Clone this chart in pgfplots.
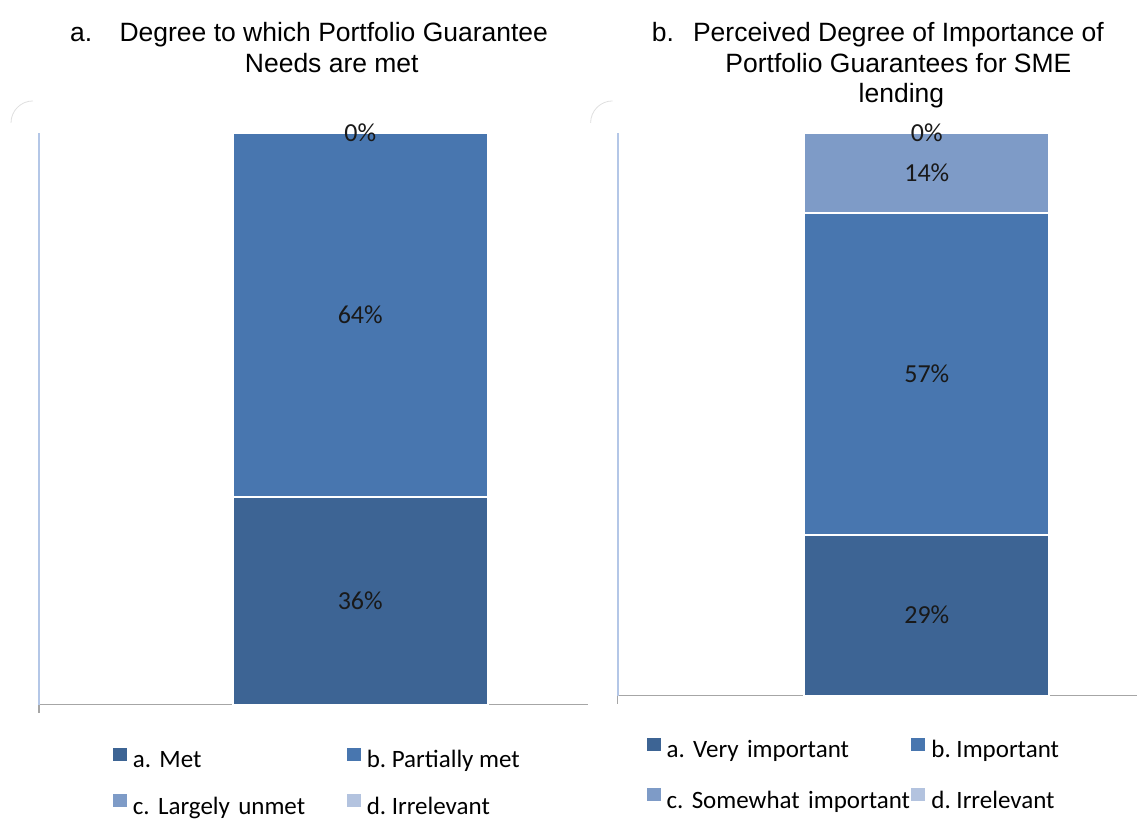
\documentclass[border=0pt]{standalone}
\usepackage{pgfplots}
\pgfplotsset{compat=1.18}
\usepackage{fontspec}
\setmainfont{Liberation Sans}
\newfontfamily\carlito{Carlito}
\definecolor{ca}{HTML}{3D6494}
\definecolor{cb}{HTML}{4876AF}
\definecolor{cc}{HTML}{7E9BC7}
\definecolor{cd}{HTML}{B3C3DF}
\definecolor{axgray}{HTML}{A6A6A6}
\definecolor{aylb}{HTML}{B4C7E7}
\newcommand\titlefont{\fontsize{26.5}{30.5}\selectfont}
\newcommand\legfont{\carlito\fontsize{25}{30}\selectfont}
\pgfplotsset{
  panel/.style={
    scale only axis, xmin=0, xmax=1, ymin=0, ymax=100,
    axis x line*=bottom, axis y line*=left,
    x axis line style={draw=axgray, line width=1.5pt},
    y axis line style={draw=aylb, line width=2pt},
    xtick={0}, xticklabels={}, ytick=\empty,
    major tick length=8pt, tick align=outside,
    xtick style={draw=axgray, line width=1.5pt},
    ybar stacked, clip=false,
    legend columns=2, legend cell align=left,
    legend image code/.code={\fill[##1,draw=none] (0pt,1pt) rectangle (14pt,14pt);},
  },
  seg/.style={fill=#1, draw=white, line width=2pt},
  lblaxis/.style={
    scale only axis, xmin=0, xmax=1, ymin=0, ymax=100, hide axis, clip=false,
  },
  lbl/.style={
    draw=none, mark=none,
    point meta=explicit symbolic,
    nodes near coords={\pgfplotspointmeta\%},
    every node near coord/.style={font=\carlito\fontsize{26}{30}\selectfont, text=black!90, anchor=center, inner sep=0pt},
  },
}
\begin{document}
\frenchspacing
\begin{tikzpicture}[x=1pt,y=1pt]
\path (0pt,0pt) rectangle (1138pt,-816pt);
% titles
\node[anchor=base west,inner sep=0,font=\titlefont] at (70pt,-42pt) {a.};
\node[anchor=base,inner sep=0,font=\titlefont] at (334pt,-42pt) {Degree to which Portfolio Guarantee};
\node[anchor=base,inner sep=0,font=\titlefont] at (332pt,-72.5pt) {Needs are met};
\node[anchor=base west,inner sep=0,font=\titlefont] at (652pt,-42pt) {b.};
\node[anchor=base,inner sep=0,font=\titlefont] at (899pt,-42pt) {Perceived Degree of Importance of};
\node[anchor=base,inner sep=0,font=\titlefont] at (899pt,-73pt) {Portfolio Guarantees for SME};
\node[anchor=base,inner sep=0,font=\titlefont] at (902pt,-103pt) {lending};
% chart-area corner remnants
\draw[gray!25, line width=0.8pt] (11pt,-123pt) arc[start angle=180, end angle=90, radius=22pt];
\draw[gray!25, line width=0.8pt] (591pt,-123pt) arc[start angle=180, end angle=90, radius=22pt];

% ---------- panel a ----------
\begin{axis}[panel,
  at={(39pt,-705pt)}, anchor=south west, width=549pt, height=572pt,
  bar width=0.4645,
  legend style={draw=none, fill=none, inner sep=0pt, outer sep=0pt,
    at={(0.1348,-0.0752)}, anchor=north west, font=\legfont,
    nodes={inner sep=0pt, text height=18pt, text depth=6pt, align=left},
    row sep=21pt,
    /tikz/column 1/.style={column sep=6pt},
    /tikz/column 2/.style={column sep=0pt, nodes={text width=214pt}},
    /tikz/column 3/.style={column sep=6pt}},
]
\addplot[seg=ca] coordinates {(0.5856,36.36)};
\addlegendentry{\mbox{a. Met}}
\addplot[seg=cb] coordinates {(0.5856,63.64)};
\addlegendentry{\mbox{b. Partially met}}
\addplot[seg=cc] coordinates {(0.5856,0)};
\addlegendentry{\mbox{c. Largely unmet}}
\addplot[seg=cd] coordinates {(0.5856,0)};
\addlegendentry{\mbox{d. Irrelevant}}
\end{axis}
\begin{axis}[lblaxis, at={(39pt,-705pt)}, anchor=south west, width=549pt, height=572pt]
\addplot[lbl] table[x=x, y=y, meta=lab] {
x y lab
0.5856 18.18 36
0.5856 68.18 64
0.5856 100 0
};
\end{axis}

% ---------- panel b ----------
\begin{axis}[panel,
  at={(618pt,-696pt)}, anchor=south west, width=520pt, height=563pt,
  bar width=0.471,
  legend style={draw=none, fill=none, inner sep=0pt, outer sep=0pt,
    at={(0.0558,-0.0746)}, anchor=north west, font=\legfont,
    nodes={inner sep=0pt, text height=18pt, text depth=6pt, align=left},
    row sep=25pt,
    /tikz/column 1/.style={column sep=6pt},
    /tikz/column 2/.style={column sep=0pt, nodes={text width=245pt}},
    /tikz/column 3/.style={column sep=6pt}},
]
\addplot[seg=ca] coordinates {(0.595,28.57)};
\addlegendentry{\mbox{a. Very important}}
\addplot[seg=cb] coordinates {(0.595,57.14)};
\addlegendentry{\mbox{b. Important}}
\addplot[seg=cc] coordinates {(0.595,14.29)};
\addlegendentry{\mbox{c. Somewhat important}}
\addplot[seg=cd] coordinates {(0.595,0)};
\addlegendentry{\mbox{d. Irrelevant}}
\end{axis}
\begin{axis}[lblaxis, at={(618pt,-696pt)}, anchor=south west, width=520pt, height=563pt]
\addplot[lbl] table[x=x, y=y, meta=lab] {
x y lab
0.595 14.29 29
0.595 57.14 57
0.595 92.86 14
0.595 100 0
};
\end{axis}
\end{tikzpicture}
\end{document}
